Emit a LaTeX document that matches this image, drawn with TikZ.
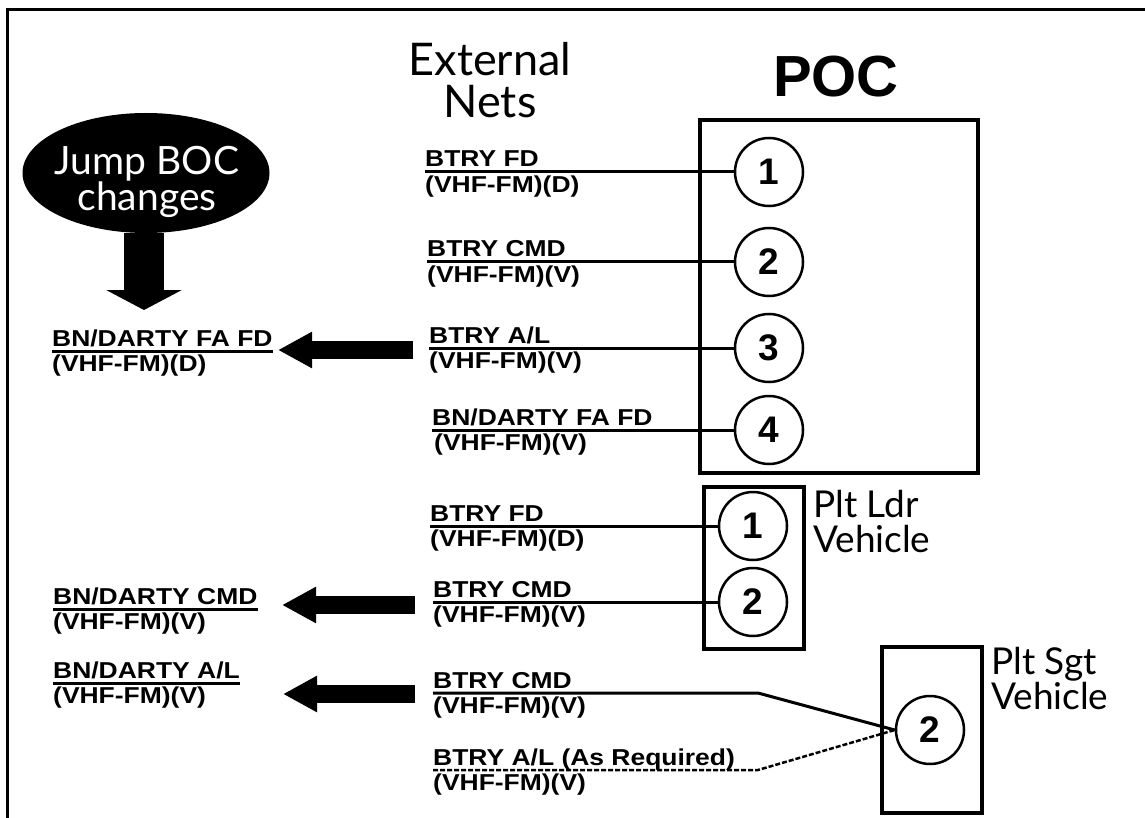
\documentclass[tikz,border=0pt]{standalone}
\usepackage{fontspec}
\setmainfont{Liberation Sans}
\newfontfamily\optfont{Lato}
\newfontfamily\netfamily[FakeStretch=1.15]{Liberation Sans}
\usetikzlibrary{positioning,arrows.meta,shapes.geometric}
\newcommand{\netfont}{\netfamily\fontsize{23}{25}\selectfont\bfseries}

\begin{document}
\begin{tikzpicture}[x=1pt,y=-1pt,
 net/.style={font=\netfont,inner sep=0pt},
 netup/.style={net,anchor=base west},
 netdn/.style={net,anchor=north west},
 port/.style={circle,draw,line width=2.5pt,minimum size=68pt,inner sep=0pt,
  font=\fontsize{37}{37}\selectfont\bfseries},
 unit/.style={draw,line width=3.5pt,inner sep=0pt},
 wire/.style={line width=3pt},
 head/.style={font=\optfont\fontsize{45}{42}\selectfont,align=center,inner sep=0pt},
 jumptext/.style={text=white,font=\optfont\fontsize{39}{31}\selectfont,align=center,inner sep=0pt},
 vehicle/.style={font=\optfont\fontsize{37}{35}\selectfont,align=left,
  inner sep=0pt,anchor=north west},
 bigarrow/.style={line width=18pt,-{Triangle[length=34pt,width=34pt]}}]
 \useasboundingbox (0,0) rectangle (1145,818);
 % frame
 \draw[line width=3pt] (7,818) -- (7,10) -- (1145,10);
 % headings
 \node[head] (ext) at (490,80) {External\\Nets};
 \node[font=\bfseries\fontsize{58}{58}\selectfont,inner sep=0pt] (poc) at (836,77) {POC};
 \node[ellipse,fill=black,minimum width=247pt,minimum height=120pt,inner sep=0pt] (jump) at (146,173) {};
 \node[jumptext] (jumptxt) at (147,182) {Jump BOC\\changes};
 % units
 \node[unit,minimum width=278pt,minimum height=353pt] (pocbox) at (839,296.5) {};
 \node[unit,minimum width=100pt,minimum height=162pt] (ldrbox) at (754,568) {};
 \node[unit,minimum width=100pt,minimum height=166pt] (sgtbox) at (932,730) {};
 \node[vehicle] (ldr) at (813,490) {Plt Ldr\\Vehicle};
 \node[vehicle] (sgt) at (991,647) {Plt Sgt\\Vehicle};
 % ports
 \node[port] (p1) at (769,172) {1};
 \node[port] (p2) at (769,262) {2};
 \node[port] (p3) at (769,348) {3};
 \node[port] (p4) at (769,430) {4};
 \node[port] (l1) at (753,526) {1};
 \node[port] (l2) at (753,602) {2};
 \node[port] (s2) at (930,730) {2};
 % external nets
 \coordinate (w1) at (425,172);
 \node[netup] (n1a) at ([yshift=5pt]w1) {BTRY FD};
 \node[netdn] (n1b) at ([yshift=-4pt]w1) {(VHF-FM)(D)};
 \draw[wire] (w1) -- (p1);
 \coordinate (w2) at (427,262);
 \node[netup] (n2a) at ([yshift=5pt]w2) {BTRY CMD};
 \node[netdn] (n2b) at ([yshift=-4pt]w2) {(VHF-FM)(V)};
 \draw[wire] (w2) -- (p2);
 \coordinate (w3) at (429,348);
 \node[netup] (n3a) at ([yshift=5pt]w3) {BTRY A/L};
 \node[netdn] (n3b) at ([yshift=-4pt]w3) {(VHF-FM)(V)};
 \draw[wire] (w3) -- (p3);
 \coordinate (w4) at (432,430);
 \node[netup] (n4a) at ([yshift=5pt]w4) {BN/DARTY FA FD};
 \node[netdn] (n4b) at ([yshift=-4pt,xshift=2pt]w4) {(VHF-FM)(V)};
 \draw[wire] (w4) -- (p4);
 \coordinate (w5) at (430,526);
 \node[netup] (n5a) at ([yshift=5pt]w5) {BTRY FD};
 \node[netdn] (n5b) at ([yshift=-4pt]w5) {(VHF-FM)(D)};
 \draw[wire] (w5) -- (l1);
 \coordinate (w6) at (433,602);
 \node[netup] (n6a) at ([yshift=5pt]w6) {BTRY CMD};
 \node[netdn] (n6b) at ([yshift=-4pt]w6) {(VHF-FM)(V)};
 \draw[wire] (w6) -- (l2);
 \coordinate (w7) at (433,693);
 \coordinate (k7) at (758,693);
 \node[netup] (n7a) at ([yshift=5pt]w7) {BTRY CMD};
 \node[netdn] (n7b) at ([yshift=-4pt]w7) {(VHF-FM)(V)};
 \draw[wire] (w7) -- (k7) -- (s2.west);
 \coordinate (w8) at (433,770);
 \coordinate (k8) at (758,770);
 \node[netup] (n8a) at ([yshift=5pt]w8) {BTRY A/L (As Required)};
 \node[netdn] (n8b) at ([yshift=-4pt]w8) {(VHF-FM)(V)};
 \draw[wire,line width=2.5pt,dash pattern=on 5pt off 2pt] (w8) -- (k8) -- (s2.west);
 % battalion nets
 \coordinate (u1) at (52,351);
 \node[netup] (b1a) at ([yshift=5pt]u1) {BN/DARTY FA FD};
 \node[netdn] (b1b) at ([yshift=-4pt]u1) {(VHF-FM)(D)};
 \draw[wire] (u1) -- (u1 -| b1a.east);
 \coordinate (u2) at (53,609);
 \node[netup] (b2a) at ([yshift=5pt]u2) {BN/DARTY CMD};
 \node[netdn] (b2b) at ([yshift=-4pt]u2) {(VHF-FM)(V)};
 \draw[wire] (u2) -- (u2 -| b2a.east);
 \coordinate (u3) at (53,683);
 \node[netup] (b3a) at ([yshift=5pt]u3) {BN/DARTY A/L};
 \node[netdn] (b3b) at ([yshift=-4pt]u3) {(VHF-FM)(V)};
 \draw[wire] (u3) -- (u3 -| b3a.east);
 % arrows
 \coordinate (t0) at (144,310);
 \draw[line width=40pt,-{Triangle[length=20pt,width=75pt]}] (jump.south -| t0) -- (t0);
 \coordinate (a1) at (413,350);
 \coordinate (t1) at (278,350);
 \draw[bigarrow] (a1) -- (t1);
 \coordinate (a2) at (415,605);
 \coordinate (t2) at (282,605);
 \draw[bigarrow] (a2) -- (t2);
 \coordinate (a3) at (415,694);
 \coordinate (t3) at (283,694);
 \draw[bigarrow] (a3) -- (t3);
\end{tikzpicture}
\end{document}
